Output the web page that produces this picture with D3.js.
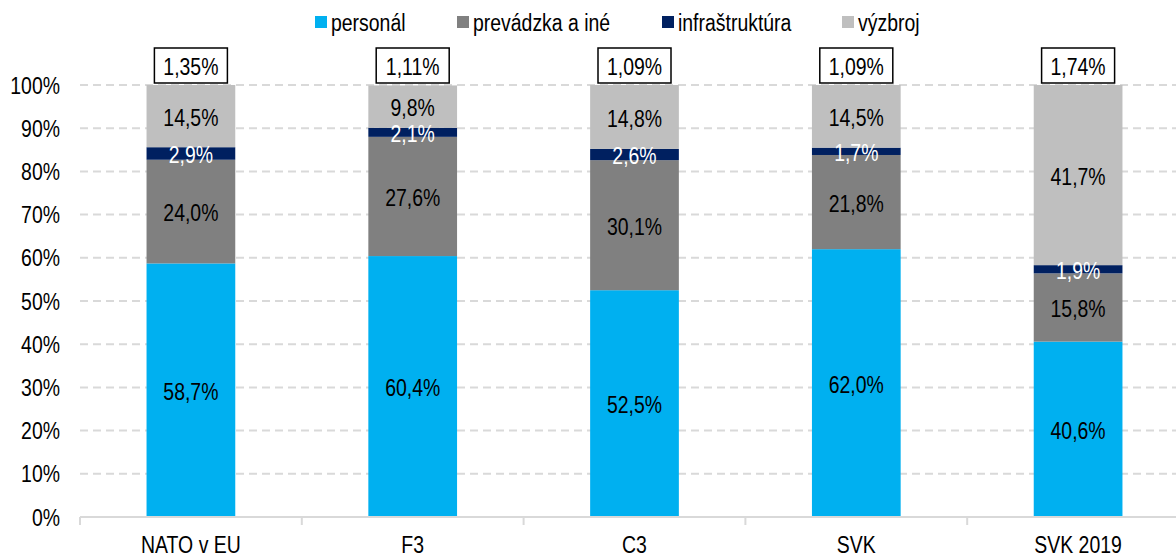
<!DOCTYPE html>
<html><head><meta charset="utf-8">
<script src="https://cdn.jsdelivr.net/npm/d3@7"></script>
<style>
html,body{margin:0;padding:0;background:#fff;}
text{font-family:"Liberation Sans Narrow","Arial Narrow","Liberation Sans",Arial,sans-serif;}
</style></head>
<body><svg id="c" width="1176" height="555"></svg>
<script>
const categories = ["NATO v EU", "F3", "C3", "SVK", "SVK 2019"];
const seriesNames = ["personál", "prevádzka a iné", "infraštruktúra", "výzbroj"];
const personal = [58.7, 60.4, 52.5, 62.0, 40.6];
const prevadzka = [24.0, 27.6, 30.1, 21.8, 15.8];
const infra = [2.9, 2.1, 2.6, 1.7, 1.9];
const vyzbroj = [14.5, 9.8, 14.8, 14.5, 41.7];
const totals = ["1,35%", "1,11%", "1,09%", "1,09%", "1,74%"];
const yTicks = [0, 10, 20, 30, 40, 50, 60, 70, 80, 90, 100];
const colors = ["#00B0F0", "#808080", "#002060", "#BFBFBF"];
const labelColors = ["#000", "#000", "#fff", "#000"];

const SX = 0.81, FS = 24;
const svg = d3.select("#c");
const x0 = 80, x1 = 1189, yTop = 85, yBot = 517;
const x = d3.scaleBand().domain(categories).range([x0, x1]).paddingInner(0.6).paddingOuter(0.3);
const y = d3.scaleLinear().domain([0, 100]).range([yBot, yTop]).clamp(true);
const fmt = v => v.toFixed(1).replace(".", ",") + "%";
const tr = (px, py) => `translate(${px},${py}) scale(${SX},1)`;

// gridlines
svg.append("g").selectAll("line").data(yTicks.filter(d => d > 0)).join("line")
  .attr("x1", x0).attr("x2", 1176).attr("y1", d => y(d)).attr("y2", d => y(d))
  .attr("stroke", "#d9d9d9").attr("stroke-width", 2).attr("stroke-dasharray", "8,5");

// y axis labels
svg.append("g").selectAll("text").data(yTicks).join("text")
  .attr("transform", d => tr(60, y(d))).attr("dy", "0.36em").attr("text-anchor", "end")
  .attr("font-size", FS).attr("fill", "#000").text(d => d + "%");

// stacked data
const rows = categories.map((c, i) => ({cat: c, s0: personal[i], s1: prevadzka[i], s2: infra[i], s3: vyzbroj[i]}));
const stack = d3.stack().keys(["s0", "s1", "s2", "s3"])(rows);

const g = svg.append("g");
stack.forEach((layer, li) => {
  g.append("g").selectAll("rect").data(layer).join("rect")
    .attr("x", d => x(d.data.cat)).attr("width", x.bandwidth())
    .attr("y", d => y(d[1])).attr("height", d => y(d[0]) - y(d[1]))
    .attr("fill", colors[li]);
});
stack.forEach((layer, li) => {
  g.append("g").selectAll("text").data(layer).join("text")
    .attr("transform", d => tr(x(d.data.cat) + x.bandwidth() / 2, (y(d[0]) + y(d[1])) / 2 + 1))
    .attr("dy", "0.36em")
    .attr("text-anchor", "middle").attr("font-size", FS).attr("fill", labelColors[li])
    .text(d => fmt(d[1] - d[0]));
});

// x axis
svg.append("line").attr("x1", x0).attr("x2", 1176).attr("y1", yBot).attr("y2", yBot)
  .attr("stroke", "#d9d9d9").attr("stroke-width", 2);
const step = x.step();
svg.append("g").selectAll("line").data(d3.range(categories.length)).join("line")
  .attr("x1", i => x0 + i * step).attr("x2", i => x0 + i * step)
  .attr("y1", yBot).attr("y2", yBot + 8).attr("stroke", "#d9d9d9").attr("stroke-width", 2);
svg.append("g").selectAll("text").data(categories).join("text")
  .attr("transform", d => tr(x(d) + x.bandwidth() / 2, 553)).attr("text-anchor", "middle")
  .attr("font-size", FS).attr("fill", "#000").text(d => d);

// totals boxes
const tb = svg.append("g").selectAll("g").data(categories).join("g");
tb.append("rect")
  .attr("x", d => x(d) + x.bandwidth() / 2 - 36.5).attr("y", 48).attr("width", 73).attr("height", 35)
  .attr("fill", "#fff").attr("stroke", "#000").attr("stroke-width", 1.5);
tb.append("text").attr("transform", d => tr(x(d) + x.bandwidth() / 2, 66)).attr("dy", "0.36em")
  .attr("text-anchor", "middle").attr("font-size", FS).attr("fill", "#000")
  .text((d, i) => totals[i]);

// legend
const legX = [315, 457, 662, 842];
const leg = svg.append("g").selectAll("g").data(seriesNames).join("g");
leg.append("rect").attr("x", (d, i) => legX[i]).attr("y", 16).attr("width", 12).attr("height", 12)
  .attr("fill", (d, i) => colors[i]);
leg.append("text").attr("transform", (d, i) => tr(legX[i] + 16, 22)).attr("dy", "0.36em")
  .attr("font-size", FS).attr("fill", "#000").text(d => d);
</script></body></html>
